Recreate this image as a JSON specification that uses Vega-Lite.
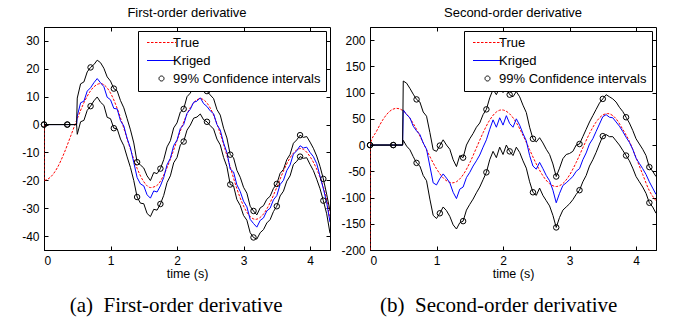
{
  "$schema": "https://vega.github.io/schema/vega-lite/v6.json",
  "padding": {"left": 21, "top": 6, "right": 33, "bottom": 2},
  "spacing": 9,
  "resolve": {"scale": {"color": "independent"}, "legend": {"color": "independent"}},
  "config": {
    "font": "Liberation Sans",
    "view": {"stroke": "black", "strokeWidth": 1},
    "axis": {"grid": false, "domainColor": "black", "tickColor": "black", "labelColor": "black", "labelFontSize": 12, "titleFontSize": 12.5, "titleFontWeight": "normal", "titleColor": "black", "tickSize": -4, "labelPadding": 9, "titlePadding": 1, "labelFont": "Liberation Sans", "titleFont": "Liberation Sans"}
  },
  "datasets": {
    "t1": [
      {"t": 0, "v": 0}, {"t": 0.001, "v": -20}, {"t": 0.1, "v": -18.8}, {"t": 0.2, "v": -15.5}, {"t": 0.3, "v": -10.4}, {"t": 0.4, "v": -4.2}, {"t": 0.5, "v": 2.1}, {"t": 0.6, "v": 7.8}, {"t": 0.7, "v": 12.1}, {"t": 0.8, "v": 14.4}, {"t": 0.85, "v": 14.7}, {"t": 0.9, "v": 14.3}, {"t": 1.0, "v": 11.3}, {"t": 1.1, "v": 5.8}, {"t": 1.2, "v": -1.3}, {"t": 1.3, "v": -8.9}, {"t": 1.4, "v": -15.7}, {"t": 1.5, "v": -20.5}, {"t": 1.6, "v": -22.6}, {"t": 1.7, "v": -21.8}, {"t": 1.8, "v": -18.1}, {"t": 1.9, "v": -12.4}, {"t": 2.0, "v": -5.7}, {"t": 2.1, "v": 0.9}, {"t": 2.2, "v": 6.1}, {"t": 2.3, "v": 8.9}, {"t": 2.35, "v": 9.3}, {"t": 2.4, "v": 8.9}, {"t": 2.5, "v": 5.9}, {"t": 2.6, "v": 0.3}, {"t": 2.7, "v": -7.1}, {"t": 2.8, "v": -15.2}, {"t": 2.9, "v": -23.0}, {"t": 3.0, "v": -29.2}, {"t": 3.1, "v": -33.0}, {"t": 3.18, "v": -34}, {"t": 3.3, "v": -32.1}, {"t": 3.4, "v": -28.0}, {"t": 3.5, "v": -22.5}, {"t": 3.6, "v": -16.7}, {"t": 3.7, "v": -11.9}, {"t": 3.8, "v": -9.1}, {"t": 3.86, "v": -8.6}, {"t": 3.9, "v": -8.9}, {"t": 4.0, "v": -11.5}, {"t": 4.1, "v": -16}, {"t": 4.2, "v": -22.5}, {"t": 4.25, "v": -27}, {"t": 4.3, "v": -34.5}
    ],
    "a1": [
      {"t": 0, "Kriged": 0, "hi": 0, "lo": 0, "m": 1},
      {"t": 0.35, "Kriged": 0, "hi": 0, "lo": 0, "m": 1},
      {"t": 0.49, "Kriged": 0, "hi": 0, "lo": 0},
      {"t": 0.5, "Kriged": 3, "hi": 9.5, "lo": -3.5},
      {"t": 0.55, "Kriged": 7.8, "hi": 14.6, "lo": 1},
      {"t": 0.6, "Kriged": 8.4, "hi": 15.3, "lo": 1.5},
      {"t": 0.65, "Kriged": 12, "hi": 18.9, "lo": 5.1},
      {"t": 0.7, "Kriged": 13.2, "hi": 20.5, "lo": 6.6, "m": 1},
      {"t": 0.75, "Kriged": 15, "hi": 21.5, "lo": 8.5},
      {"t": 0.8, "Kriged": 16.5, "hi": 23.1, "lo": 9.9},
      {"t": 0.85, "Kriged": 15, "hi": 22.2, "lo": 8},
      {"t": 0.9, "Kriged": 13.6, "hi": 20.2, "lo": 6.9},
      {"t": 0.95, "Kriged": 9.8, "hi": 17.1, "lo": 2.6},
      {"t": 1.0, "Kriged": 8.9, "hi": 15.6, "lo": 2.1},
      {"t": 1.05, "Kriged": 5.8, "hi": 12.9, "lo": -1.3, "m": 1},
      {"t": 1.1, "Kriged": 5.6, "hi": 12.1, "lo": -1.5},
      {"t": 1.15, "Kriged": 1.4, "hi": 8.6, "lo": -5.2},
      {"t": 1.2, "Kriged": -0.5, "hi": 6.0, "lo": -7.6},
      {"t": 1.25, "Kriged": -5, "hi": 2.1, "lo": -11.6},
      {"t": 1.3, "Kriged": -8.4, "hi": -1.9, "lo": -15.4},
      {"t": 1.35, "Kriged": -13.6, "hi": -6.6, "lo": -20.1},
      {"t": 1.4, "Kriged": -19, "hi": -13.5, "lo": -26, "m": 1},
      {"t": 1.45, "Kriged": -21.3, "hi": -14.5, "lo": -28.2},
      {"t": 1.5, "Kriged": -22, "hi": -15.6, "lo": -28.4},
      {"t": 1.55, "Kriged": -25.2, "hi": -18.4, "lo": -31.9},
      {"t": 1.6, "Kriged": -26.4, "hi": -20.1, "lo": -33.0},
      {"t": 1.65, "Kriged": -23.8, "hi": -17.2, "lo": -30.4},
      {"t": 1.7, "Kriged": -24.2, "hi": -17.6, "lo": -30.7},
      {"t": 1.75, "Kriged": -22, "hi": -15.8, "lo": -28.5, "m": 1},
      {"t": 1.8, "Kriged": -19, "hi": -12.6, "lo": -25.4},
      {"t": 1.85, "Kriged": -14.4, "hi": -8.0, "lo": -20.8},
      {"t": 1.9, "Kriged": -12.1, "hi": -5.8, "lo": -18.4},
      {"t": 1.95, "Kriged": -7.5, "hi": -1.2, "lo": -13.7},
      {"t": 2.0, "Kriged": -5.6, "hi": 0.6, "lo": -11.8},
      {"t": 2.05, "Kriged": -1.4, "hi": 4.5, "lo": -7.3},
      {"t": 2.1, "Kriged": 0, "hi": 5.6, "lo": -6.1, "m": 1},
      {"t": 2.15, "Kriged": 4, "hi": 10.0, "lo": -2.0},
      {"t": 2.2, "Kriged": 5.5, "hi": 11.3, "lo": -0.2},
      {"t": 2.25, "Kriged": 8, "hi": 13.9, "lo": 2.3},
      {"t": 2.3, "Kriged": 8.4, "hi": 14.2, "lo": 2.7},
      {"t": 2.35, "Kriged": 9.6, "hi": 15.3, "lo": 3.8},
      {"t": 2.4, "Kriged": 7.5, "hi": 13.3, "lo": 1.7},
      {"t": 2.45, "Kriged": 6.5, "hi": 12, "lo": 1, "m": 1},
      {"t": 2.5, "Kriged": 4.9, "hi": 10.6, "lo": -0.4},
      {"t": 2.55, "Kriged": 3.9, "hi": 9.3, "lo": -1.6},
      {"t": 2.6, "Kriged": 0, "hi": 5.4, "lo": -5.2},
      {"t": 2.65, "Kriged": -2, "hi": 3.4, "lo": -7.3},
      {"t": 2.7, "Kriged": -6.6, "hi": -1.3, "lo": -11.8},
      {"t": 2.75, "Kriged": -10, "hi": -4.8, "lo": -15.1},
      {"t": 2.8, "Kriged": -16, "hi": -10.8, "lo": -21.5, "m": 1},
      {"t": 2.85, "Kriged": -17, "hi": -11.9, "lo": -22.0},
      {"t": 2.9, "Kriged": -21.6, "hi": -16.4, "lo": -26.9},
      {"t": 2.95, "Kriged": -24, "hi": -18.9, "lo": -29.0},
      {"t": 3.0, "Kriged": -27.5, "hi": -22.5, "lo": -32.6},
      {"t": 3.05, "Kriged": -29.5, "hi": -24.6, "lo": -34.3},
      {"t": 3.1, "Kriged": -34, "hi": -29.3, "lo": -38.8},
      {"t": 3.15, "Kriged": -35.5, "hi": -31.0, "lo": -40.5, "m": 1},
      {"t": 3.2, "Kriged": -36.8, "hi": -32.4, "lo": -41.1},
      {"t": 3.25, "Kriged": -34.4, "hi": -29.9, "lo": -38.8},
      {"t": 3.3, "Kriged": -33.5, "hi": -29.1, "lo": -37.7},
      {"t": 3.35, "Kriged": -31, "hi": -26.8, "lo": -35.3},
      {"t": 3.4, "Kriged": -30, "hi": -25.7, "lo": -34.1},
      {"t": 3.45, "Kriged": -27, "hi": -22.9, "lo": -31.2},
      {"t": 3.5, "Kriged": -25.5, "hi": -21.3, "lo": -29.3, "m": 1},
      {"t": 3.55, "Kriged": -21.5, "hi": -17.5, "lo": -25.6},
      {"t": 3.6, "Kriged": -20, "hi": -16.1, "lo": -23.9},
      {"t": 3.65, "Kriged": -16.5, "hi": -12.6, "lo": -20.3},
      {"t": 3.7, "Kriged": -14.5, "hi": -10.7, "lo": -18.4},
      {"t": 3.75, "Kriged": -10.6, "hi": -6.7, "lo": -14.3},
      {"t": 3.8, "Kriged": -9.4, "hi": -5.5, "lo": -13.2},
      {"t": 3.85, "Kriged": -7.6, "hi": -3.8, "lo": -11.5, "m": 1},
      {"t": 3.9, "Kriged": -8.4, "hi": -4.6, "lo": -12.1},
      {"t": 3.95, "Kriged": -8.1, "hi": -4.3, "lo": -11.9},
      {"t": 4.0, "Kriged": -10, "hi": -6.3, "lo": -14.3},
      {"t": 4.05, "Kriged": -11.5, "hi": -8.5, "lo": -16.5},
      {"t": 4.1, "Kriged": -14, "hi": -11.3, "lo": -19.6},
      {"t": 4.15, "Kriged": -18.5, "hi": -15, "lo": -23},
      {"t": 4.2, "Kriged": -23, "hi": -19.5, "lo": -27.3, "m": 1},
      {"t": 4.25, "Kriged": -28, "hi": -25, "lo": -32},
      {"t": 4.3, "Kriged": -35, "hi": -31, "lo": -39}
    ],
    "t2": [
      {"t": 0, "v": -200}, {"t": 0.001, "v": 0}, {"t": 0.1, "v": 26.8}, {"t": 0.2, "v": 49.5}, {"t": 0.3, "v": 64.7}, {"t": 0.4, "v": 70}, {"t": 0.5, "v": 65.1}, {"t": 0.6, "v": 51.0}, {"t": 0.7, "v": 29.8}, {"t": 0.8, "v": 4.3}, {"t": 0.9, "v": -21.9}, {"t": 1.0, "v": -45.2}, {"t": 1.1, "v": -62.5}, {"t": 1.2, "v": -71.2}, {"t": 1.24, "v": -72}, {"t": 1.3, "v": -69.8}, {"t": 1.4, "v": -56.6}, {"t": 1.5, "v": -33.8}, {"t": 1.6, "v": -5.4}, {"t": 1.7, "v": 23.4}, {"t": 1.8, "v": 47.7}, {"t": 1.9, "v": 63.0}, {"t": 1.98, "v": 67}, {"t": 2.1, "v": 59.4}, {"t": 2.2, "v": 42.6}, {"t": 2.3, "v": 18.7}, {"t": 2.4, "v": -8.8}, {"t": 2.5, "v": -35.9}, {"t": 2.6, "v": -58.6}, {"t": 2.7, "v": -73.7}, {"t": 2.8, "v": -79}, {"t": 2.9, "v": -73.3}, {"t": 3.0, "v": -57.1}, {"t": 3.1, "v": -33.1}, {"t": 3.2, "v": -5.3}, {"t": 3.3, "v": 21.9}, {"t": 3.4, "v": 43.9}, {"t": 3.5, "v": 57.2}, {"t": 3.57, "v": 60}, {"t": 3.6, "v": 59.5}, {"t": 3.7, "v": 50}, {"t": 3.8, "v": 30}, {"t": 3.9, "v": 7}, {"t": 4.0, "v": -24}, {"t": 4.1, "v": -56}, {"t": 4.2, "v": -87}, {"t": 4.3, "v": -106}
    ],
    "a2": [
      {"t": 0, "Kriged": 0, "hi": 0, "lo": 0, "m": 1},
      {"t": 0.35, "Kriged": 0, "hi": 0, "lo": 0, "m": 1},
      {"t": 0.49, "Kriged": 0, "hi": 0, "lo": 0},
      {"t": 0.5, "Kriged": 67, "hi": 122, "lo": 9},
      {"t": 0.55, "Kriged": 58, "hi": 118, "lo": -2},
      {"t": 0.6, "Kriged": 52, "hi": 108, "lo": -9},
      {"t": 0.65, "Kriged": 36, "hi": 97, "lo": -22},
      {"t": 0.7, "Kriged": 27, "hi": 87, "lo": -34, "m": 1},
      {"t": 0.75, "Kriged": 20, "hi": 82, "lo": -40},
      {"t": 0.8, "Kriged": 4, "hi": 63, "lo": -58},
      {"t": 0.85, "Kriged": -8, "hi": 55, "lo": -68},
      {"t": 0.9, "Kriged": -40, "hi": 24, "lo": -103},
      {"t": 0.95, "Kriged": -72, "hi": -9, "lo": -134},
      {"t": 1.0, "Kriged": -76, "hi": -12, "lo": -140},
      {"t": 1.05, "Kriged": -64, "hi": -1, "lo": -130, "m": 1},
      {"t": 1.1, "Kriged": -55, "hi": 10, "lo": -118},
      {"t": 1.15, "Kriged": -63, "hi": 0, "lo": -125},
      {"t": 1.2, "Kriged": -72, "hi": -8, "lo": -136},
      {"t": 1.25, "Kriged": -90, "hi": -28, "lo": -152},
      {"t": 1.3, "Kriged": -102, "hi": -41, "lo": -160},
      {"t": 1.35, "Kriged": -84, "hi": -20, "lo": -148},
      {"t": 1.4, "Kriged": -80, "hi": -24, "lo": -145, "m": 1},
      {"t": 1.45, "Kriged": -62, "hi": 0, "lo": -124},
      {"t": 1.5, "Kriged": -52, "hi": 12, "lo": -113},
      {"t": 1.55, "Kriged": -40, "hi": 22, "lo": -103},
      {"t": 1.6, "Kriged": -30, "hi": 34, "lo": -91},
      {"t": 1.65, "Kriged": -19, "hi": 42, "lo": -80},
      {"t": 1.7, "Kriged": -4, "hi": 58, "lo": -66},
      {"t": 1.75, "Kriged": 10, "hi": 68, "lo": -52, "m": 1},
      {"t": 1.8, "Kriged": 30, "hi": 90, "lo": -28},
      {"t": 1.85, "Kriged": 48, "hi": 106, "lo": -12},
      {"t": 1.9, "Kriged": 34, "hi": 96, "lo": -24},
      {"t": 1.95, "Kriged": 52, "hi": 110, "lo": -4},
      {"t": 2.0, "Kriged": 38, "hi": 100, "lo": -18},
      {"t": 2.05, "Kriged": 56, "hi": 108, "lo": 0},
      {"t": 2.1, "Kriged": 41, "hi": 96, "lo": -12, "m": 1},
      {"t": 2.15, "Kriged": 34, "hi": 92, "lo": -20},
      {"t": 2.2, "Kriged": 50, "hi": 102, "lo": -4},
      {"t": 2.25, "Kriged": 38, "hi": 92, "lo": -14},
      {"t": 2.3, "Kriged": 22, "hi": 76, "lo": -30},
      {"t": 2.35, "Kriged": 8, "hi": 62, "lo": -44},
      {"t": 2.4, "Kriged": -20, "hi": 34, "lo": -70},
      {"t": 2.45, "Kriged": -40, "hi": 12, "lo": -90, "m": 1},
      {"t": 2.5, "Kriged": -46, "hi": 6, "lo": -96},
      {"t": 2.55, "Kriged": -33, "hi": 14, "lo": -82},
      {"t": 2.6, "Kriged": -45, "hi": 4, "lo": -96},
      {"t": 2.65, "Kriged": -58, "hi": -8, "lo": -106},
      {"t": 2.7, "Kriged": -68, "hi": -18, "lo": -116},
      {"t": 2.75, "Kriged": -86, "hi": -36, "lo": -134},
      {"t": 2.8, "Kriged": -110, "hi": -60, "lo": -157, "m": 1},
      {"t": 2.85, "Kriged": -92, "hi": -44, "lo": -138},
      {"t": 2.9, "Kriged": -77, "hi": -26, "lo": -124},
      {"t": 2.95, "Kriged": -72, "hi": -18, "lo": -118},
      {"t": 3.0, "Kriged": -66, "hi": -16, "lo": -112},
      {"t": 3.05, "Kriged": -60, "hi": -12, "lo": -104},
      {"t": 3.1, "Kriged": -50, "hi": 0, "lo": -94},
      {"t": 3.15, "Kriged": -45, "hi": 2, "lo": -86, "m": 1},
      {"t": 3.2, "Kriged": -28, "hi": 16, "lo": -70},
      {"t": 3.25, "Kriged": -15, "hi": 30, "lo": -58},
      {"t": 3.3, "Kriged": 2, "hi": 44, "lo": -40},
      {"t": 3.35, "Kriged": 12, "hi": 56, "lo": -28},
      {"t": 3.4, "Kriged": 26, "hi": 68, "lo": -14},
      {"t": 3.45, "Kriged": 40, "hi": 80, "lo": 2},
      {"t": 3.5, "Kriged": 54, "hi": 88, "lo": 17, "m": 1},
      {"t": 3.55, "Kriged": 58, "hi": 96, "lo": 20},
      {"t": 3.6, "Kriged": 53, "hi": 92, "lo": 16},
      {"t": 3.65, "Kriged": 52, "hi": 88, "lo": 16},
      {"t": 3.7, "Kriged": 44, "hi": 82, "lo": 8},
      {"t": 3.75, "Kriged": 36, "hi": 72, "lo": 0},
      {"t": 3.8, "Kriged": 26, "hi": 64, "lo": -10},
      {"t": 3.85, "Kriged": 15, "hi": 53, "lo": -20, "m": 1},
      {"t": 3.9, "Kriged": 5, "hi": 42, "lo": -30},
      {"t": 3.95, "Kriged": -8, "hi": 28, "lo": -44},
      {"t": 4.0, "Kriged": -25, "hi": 12, "lo": -60},
      {"t": 4.05, "Kriged": -35, "hi": 2, "lo": -70},
      {"t": 4.1, "Kriged": -45, "hi": -8, "lo": -80},
      {"t": 4.15, "Kriged": -56, "hi": -20, "lo": -92},
      {"t": 4.2, "Kriged": -70, "hi": -42, "lo": -110, "m": 1},
      {"t": 4.25, "Kriged": -82, "hi": -50, "lo": -118},
      {"t": 4.3, "Kriged": -94, "hi": -60, "lo": -130}
    ]
  },
  "hconcat": [
    {
      "title": {"text": "(a)\u00a0 First-order derivative", "orient": "bottom", "font": "Liberation Serif", "fontSize": 21, "fontWeight": "normal", "anchor": "middle", "frame": "bounds", "offset": 15, "color": "black"},
      "resolve": {"scale": {"color": "independent"}, "legend": {"color": "independent"}},
      "vconcat": [
        {
          "width": 286, "height": 223,
          "title": {"text": "First-order derivative", "fontSize": 13, "fontWeight": "normal", "font": "Liberation Sans", "offset": 7, "anchor": "middle", "color": "black"},
          "layer": [
            {
              "data": {"name": "t1"},
              "mark": {"type": "line", "color": "#ff0000", "strokeDash": [2.5, 1.5], "strokeWidth": 1, "clip": true, "interpolate": "monotone"},
              "encoding": {
                "x": {"field": "t", "type": "quantitative", "scale": {"domain": [0, 4.3], "nice": false, "zero": false}, "axis": {"values": [0, 1, 2, 3, 4], "title": "time (s)"}},
                "y": {"field": "v", "type": "quantitative", "scale": {"domain": [-45, 35], "nice": false, "zero": false}, "axis": {"values": [-40, -30, -20, -10, 0, 10, 20, 30], "title": null, "labelExpr": "'' + datum.value"}}
              }
            },
            {
              "data": {"name": "a1"},
              "transform": [{"fold": ["Kriged", "hi", "lo"]}],
              "mark": {"type": "line", "strokeWidth": 1, "clip": true},
              "encoding": {
                "x": {"field": "t", "type": "quantitative", "axis": null},
                "y": {"field": "value", "type": "quantitative", "axis": null},
                "color": {"field": "key", "type": "nominal", "scale": {"domain": ["True", "Kriged", "hi", "lo"], "range": ["#ff0000", "#0000ff", "#000000", "#000000"]},
                  "legend": {"orient": "top-right", "offset": 4, "title": null, "values": ["True", "Kriged", "hi"], "labelExpr": "datum.label == 'hi' ? '99% Confidence intervals' : datum.label", "symbolType": "M-2.9,0H2.9", "symbolSize": 100, "symbolStrokeWidth": 1, "fillColor": "white", "strokeColor": "black", "padding": 5, "labelFontSize": 13, "labelFont": "Liberation Sans", "labelColor": "black", "labelOffset": 5, "symbolOffset": 12, "rowPadding": 4,
                    "encode": {"symbols": {"update": {"shape": {"signal": "datum.value === 'hi' ? 'circle' : 'M-2.9,0H2.9'"}, "size": {"signal": "datum.value === 'hi' ? 25 : 100"}, "strokeDash": {"signal": "datum.value === 'True' ? [2.5,1.5] : [1,0]"}, "fill": {"value": "transparent"}}}}}}
              }
            },
            {
              "data": {"name": "a1"},
              "transform": [{"filter": "datum.m"}, {"fold": ["hi", "lo"]}],
              "mark": {"type": "point", "shape": "circle", "filled": false, "color": "black", "size": 30, "strokeWidth": 1, "opacity": 1},
              "encoding": {
                "x": {"field": "t", "type": "quantitative", "axis": {"orient": "top", "labels": false, "title": null, "values": [0, 1, 2, 3, 4], "domain": false}},
                "y": {"field": "value", "type": "quantitative", "axis": {"orient": "right", "labels": false, "title": null, "values": [-40, -30, -20, -10, 0, 10, 20, 30], "domain": false}}
              }
            }
          ],
          "resolve": {"axis": {"x": "independent", "y": "independent"}}
        }
      ]
    },
    {
      "title": {"text": "(b)\u00a0 Second-order derivative", "orient": "bottom", "font": "Liberation Serif", "fontSize": 21, "fontWeight": "normal", "anchor": "middle", "frame": "bounds", "offset": 15, "color": "black"},
      "resolve": {"scale": {"color": "independent"}, "legend": {"color": "independent"}},
      "vconcat": [
        {
          "width": 286, "height": 223,
          "title": {"text": "Second-order derivative", "fontSize": 13, "fontWeight": "normal", "font": "Liberation Sans", "offset": 7, "anchor": "middle", "color": "black"},
          "layer": [
            {
              "data": {"name": "t2"},
              "mark": {"type": "line", "color": "#ff0000", "strokeDash": [2.5, 1.5], "strokeWidth": 1, "clip": true, "interpolate": "monotone"},
              "encoding": {
                "x": {"field": "t", "type": "quantitative", "scale": {"domain": [0, 4.3], "nice": false, "zero": false}, "axis": {"values": [0, 1, 2, 3, 4], "title": "time (s)"}},
                "y": {"field": "v", "type": "quantitative", "scale": {"domain": [-200, 225], "nice": false, "zero": false}, "axis": {"values": [-200, -150, -100, -50, 0, 50, 100, 150, 200], "title": null, "labelExpr": "'' + datum.value"}}
              }
            },
            {
              "data": {"name": "a2"},
              "transform": [{"fold": ["Kriged", "hi", "lo"]}],
              "mark": {"type": "line", "strokeWidth": 1, "clip": true},
              "encoding": {
                "x": {"field": "t", "type": "quantitative", "axis": null},
                "y": {"field": "value", "type": "quantitative", "axis": null},
                "color": {"field": "key", "type": "nominal", "scale": {"domain": ["True", "Kriged", "hi", "lo"], "range": ["#ff0000", "#0000ff", "#000000", "#000000"]},
                  "legend": {"orient": "top-right", "offset": 4, "title": null, "values": ["True", "Kriged", "hi"], "labelExpr": "datum.label == 'hi' ? '99% Confidence intervals' : datum.label", "symbolType": "M-2.9,0H2.9", "symbolSize": 100, "symbolStrokeWidth": 1, "fillColor": "white", "strokeColor": "black", "padding": 5, "labelFontSize": 13, "labelFont": "Liberation Sans", "labelColor": "black", "labelOffset": 5, "symbolOffset": 12, "rowPadding": 4,
                    "encode": {"symbols": {"update": {"shape": {"signal": "datum.value === 'hi' ? 'circle' : 'M-2.9,0H2.9'"}, "size": {"signal": "datum.value === 'hi' ? 25 : 100"}, "strokeDash": {"signal": "datum.value === 'True' ? [2.5,1.5] : [1,0]"}, "fill": {"value": "transparent"}}}}}}
              }
            },
            {
              "data": {"name": "a2"},
              "transform": [{"filter": "datum.m"}, {"fold": ["hi", "lo"]}],
              "mark": {"type": "point", "shape": "circle", "filled": false, "color": "black", "size": 30, "strokeWidth": 1, "opacity": 1},
              "encoding": {
                "x": {"field": "t", "type": "quantitative", "axis": {"orient": "top", "labels": false, "title": null, "values": [0, 1, 2, 3, 4], "domain": false}},
                "y": {"field": "value", "type": "quantitative", "axis": {"orient": "right", "labels": false, "title": null, "values": [-200, -150, -100, -50, 0, 50, 100, 150, 200], "domain": false}}
              }
            }
          ],
          "resolve": {"axis": {"x": "independent", "y": "independent"}}
        }
      ]
    }
  ]
}
